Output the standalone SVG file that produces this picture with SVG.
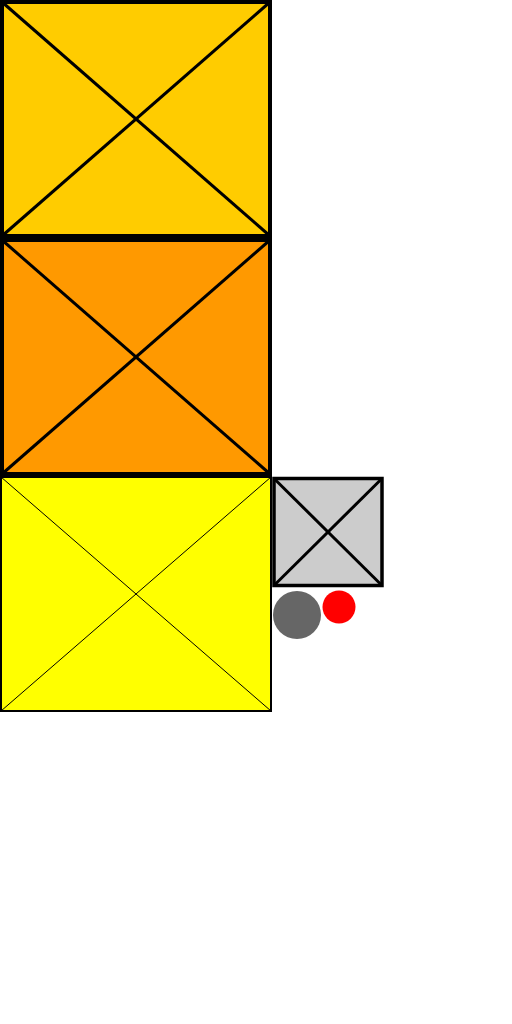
<svg xmlns="http://www.w3.org/2000/svg" width="512" height="1024" viewBox="0 0 512 1024">
<style>
.b{stroke:#000;stroke-width:4;}
.d{stroke:#000;stroke-width:3;}
.t{stroke:#000;stroke-width:1;}
</style>
<rect width="512" height="1024" fill="#fff"/>
<g id="box1">
<rect x="2" y="2" width="268" height="234" fill="#FFCC00" class="b"/>
<line x1="2" y1="2" x2="270" y2="236" class="d"/>
<line x1="2" y1="236" x2="270" y2="2" class="d"/>
</g>
<g id="box2">
<rect x="2" y="240" width="268" height="234" fill="#FF9900" class="b"/>
<line x1="2" y1="240" x2="270" y2="474" class="d"/>
<line x1="2" y1="474" x2="270" y2="240" class="d"/>
</g>
<g id="box3">
<rect x="1" y="477" width="270" height="234" fill="#FFFF00" stroke="#000" stroke-width="2"/>
<line x1="1" y1="711" x2="271" y2="477" class="t"/>
<line x1="1" y1="477" x2="271" y2="711" class="t"/>
</g>
<g id="box4">
<rect x="274" y="478.5" width="108" height="107" fill="#CCCCCC" stroke="#000" stroke-width="3.5"/>
<line x1="274" y1="478.5" x2="382" y2="585.5" class="d"/>
<line x1="274" y1="585.5" x2="382" y2="478.5" class="d"/>
</g>
<g id="circle1"><circle cx="297" cy="615" r="24" fill="#666666"/></g>
<g id="circle2"><circle cx="339" cy="607" r="16.5" fill="#FF0000"/></g>
<g id="connectors"></g>
</svg>
